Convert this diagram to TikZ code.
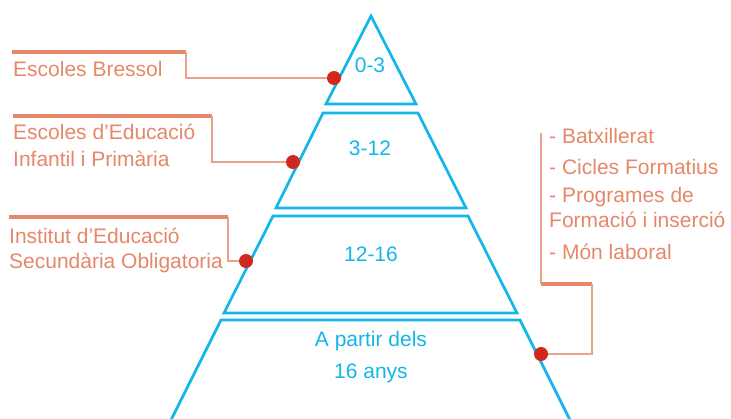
\documentclass[tikz,border=0pt]{standalone}
\usepackage{fontspec}
\setmainfont{Liberation Sans}
\definecolor{pyrblue}{RGB}{20,182,234}
\definecolor{salmon}{RGB}{229,135,104}
\definecolor{lightsalmon}{RGB}{236,162,138}
\definecolor{dotred}{RGB}{208,40,30}

\begin{document}
\begin{tikzpicture}[x=1pt, y=-1pt,
  tier/.style={draw=pyrblue, line width=2.7pt, line join=miter},
  age/.style={text=pyrblue, font=\fontsize{21}{25}\selectfont, inner sep=0pt, anchor=base},
  school/.style={text=salmon, font=\fontsize{21}{25}\selectfont, inner sep=0pt, anchor=base west},
  bar/.style={draw=salmon, line width=4pt},
  leader/.style={draw=lightsalmon, line width=1.3pt},
  reddot/.style={circle, fill=dotred, inner sep=0pt, minimum size=14pt}]
\useasboundingbox (0,0) rectangle (731,418);

% pyramid
\begin{scope}
\clip (0,0) rectangle (731,418);
\draw[tier] (371,16) -- (416,104) -- (326,104) -- cycle;
\draw[tier] (323,113) -- (418,113) -- (466,208) -- (276,208) -- cycle;
\draw[tier] (273,216) -- (468,216) -- (517,313) -- (224,313) -- cycle;
\draw[tier] (166,430) -- (221,320) -- (520,320) -- (575,430);
\end{scope}

\node[age] (a03) at (370,72) {0-3};
\node[age] (a312) at (370,155) {3-12};
\node[age] (a1216) at (371,261) {12-16};
\node[age] (a16a) at (371,346) {A partir dels};
\node[age] (a16b) at (371,378) {16 anys};

% labels on the left
\node[school] (eb) at (13,76) {Escoles Bressol};
\node[school] (ei1) at (13,139) {Escoles d’Educació};
\node[school] (ei2) at (13,166) {Infantil i Primària};
\node[school] (ie1) at (9,243) {Institut d’Educació};
\node[school] (ie2) at (9,268) {Secundària Obligatoria};

% list on the right
\node[school] (bx) at (549,143) {- Batxillerat};
\node[school] (cf) at (549,174) {- Cicles Formatius};
\node[school] (pf1) at (549,202) {- Programes de};
\node[school] (pf2) at (549,227) {Formació i inserció};
\node[school] (ml) at (549,259) {- Món laboral};

\coordinate (eb bar) at (186,52);
\coordinate (ei bar) at (212,115.5);
\coordinate (ie bar) at (228,217);
\coordinate (list top) at (541,133);
\coordinate (list bar) at (541,284);
\coordinate (list end) at (592,284);
\draw[bar] (12,52) -- (eb bar);
\draw[bar] (13,115.5) -- (ei bar);
\draw[bar] (9,217) -- (ie bar);
\draw[bar] (list bar) -- (list end);
\draw[leader] (list top) -- (list bar);

\node[reddot] (d1) at (334,78) {};
\node[reddot] (d2) at (293,162) {};
\node[reddot] (d3) at (246,261) {};
\node[reddot] (d4) at (541,354) {};

\draw[leader] (eb bar) |- (d1);
\draw[leader] (ei bar) |- (d2);
\draw[leader] (ie bar) |- (d3);
\draw[leader] (list end) |- (d4);
\end{tikzpicture}
\end{document}
